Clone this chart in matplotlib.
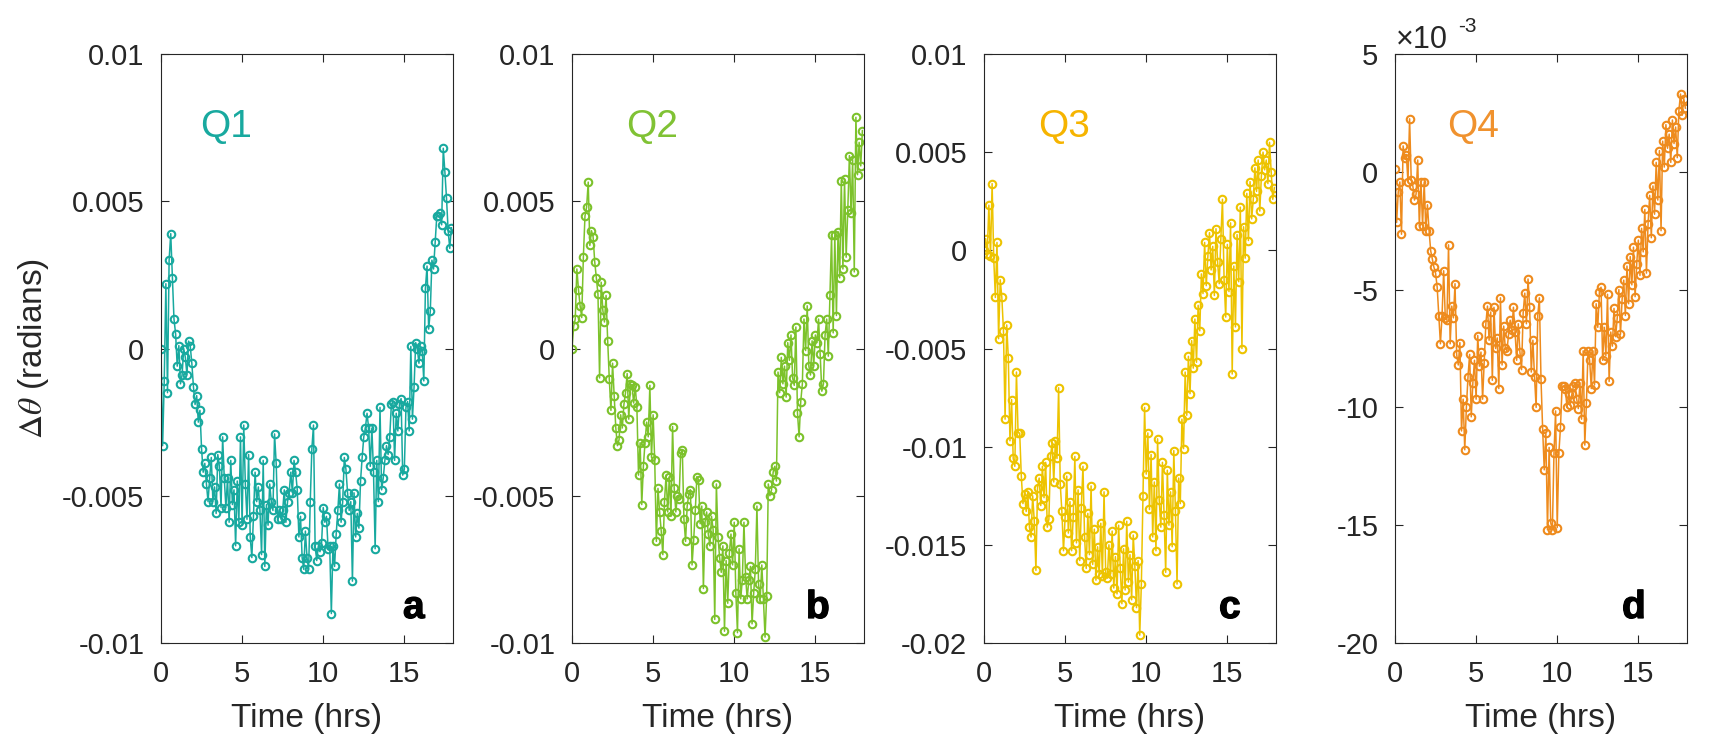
import numpy as np
import matplotlib
matplotlib.use('Agg')
import matplotlib.pyplot as plt
import matplotlib.patheffects as pe

plt.rcParams['font.family'] = ['Liberation Sans', 'DejaVu Sans']
plt.rcParams['axes.unicode_minus'] = False
plt.rcParams['mathtext.fontset'] = 'stix'

# ---------------- data (values in units of 1e-3 rad) ----------------
DT = 0.1  # hours between samples

q1 = [0.0, -3.3, -1.1, 2.2, -1.5, 3.0, 3.9, 2.4, 1.0, 0.5,
      -0.6, 0.1, -1.2, -0.9, 0.0, -0.3, -0.9, 0.25, 0.1, -0.5,
      -1.3, -1.9, -1.6, -2.5, -2.1, -3.4, -4.2, -3.9, -4.6, -5.2,
      -4.4, -3.7, -5.2, -4.7, -5.6, -3.6, -4.0, -5.4, -3.0, -4.4,
      -5.4, -4.4, -5.9, -3.8, -5.3, -4.8, -6.7, -4.5, -5.9, -3.0,
      -6.0, -2.6, -4.6, -5.8, -3.6, -6.4, -7.1, -5.7, -4.2, -5.2,
      -4.7, -5.5, -7.0, -3.8, -7.4, -5.3, -6.0, -4.6, -5.2, -5.5,
      -2.9, -3.9, -5.8, -5.5, -5.8, -5.5, -4.8, -5.9, -5.2, -4.9,
      -4.2, -4.9, -3.8, -4.2, -4.8, -6.4, -5.7, -7.1, -7.5, -6.2,
      -7.1, -7.5, -5.2, -3.4, -2.6, -6.7, -7.2, -6.7, -6.9, -6.6,
      -5.4, -5.9, -5.7, -6.8, -6.7, -9.0, -6.7, -7.4, -6.3, -5.5,
      -4.6, -5.9, -5.2, -3.7, -4.1, -4.9, -5.5, -5.2, -7.9, -4.9,
      -6.4, -5.6, -6.1, -4.5, -3.7, -3.0, -2.7, -2.2, -2.7, -4.0,
      -2.7, -4.2, -6.8, -3.8, -5.2, -2.0, -4.8, -4.4, -3.8, -3.3,
      -3.6, -3.0, -1.9, -1.8, -3.8, -2.2, -2.8, -1.9, -1.7, -4.3,
      -4.1, -2.0, -1.8, -2.8, 0.07, -2.4, -1.3, 0.2, 0.0, -0.5,
      0.07, -0.07, -1.1, 2.05, 2.8, 0.66, 1.26, 3.0, 2.7, 3.6,
      4.5, 4.5, 4.6, 4.2, 6.8, 6.0, 5.1, 4.0, 3.4, 4.1]

q2 = [0.0, 0.75, 1.0, 2.7, 2.0, 1.45, 1.05, 3.1, 4.5, 4.8,
      5.65, 3.5, 4.0, 3.8, 2.95, 2.4, 1.85, -1.0, 2.25, 1.3,
      0.9, 1.8, 0.26, -1.05, -2.1, -0.5, -1.6, -2.7, -3.3, -3.1,
      -2.25, -2.7, -1.9, -1.5, -0.85, -2.4, -1.2, -1.25, -1.85, -1.3,
      -2.0, -4.3, -3.2, -5.3, -4.0, -3.2, -2.5, -3.0, -1.25, -3.7,
      -2.25, -3.8, -6.55, -4.75, -5.55, -6.2, -7.0, -5.2, -4.3, -5.55,
      -4.35, -5.7, -2.65, -4.75, -5.55, -5.0, -5.1, -3.55, -3.45, -5.8,
      -6.55, -5.35, -4.95, -4.8, -7.35, -6.5, -5.5, -4.35, -4.45, -5.95,
      -5.35, -8.15, -5.9, -5.55, -6.3, -6.7, -5.7, -6.15, -9.2, -4.6,
      -6.4, -7.1, -7.6, -6.7, -9.6, -7.2, -8.65, -6.95, -6.3, -7.35,
      -5.9, -8.3, -9.65, -6.8, -8.5, -7.85, -5.9, -7.75, -8.5, -7.85,
      -7.4, -9.35, -8.3, -7.5, -5.35, -8.0, -8.5, -7.35, -8.5, -9.8,
      -8.4, -4.6, -5.0, -4.8, -4.2, -4.0, -4.5, -0.8, -1.5, -0.3,
      -1.2, -0.6, -1.65, 0.2, -0.4, 0.46, -1.0, -1.25, 0.73, -2.2,
      -3.0, -1.8, -1.2, 1.0, -0.07, 1.45, -0.6, -0.9, 0.26, -0.6,
      0.46, 0.2, 1.0, -0.2, -1.45, -1.2, 0.46, 1.0, -0.26, 1.8,
      3.85, 0.53, 3.85, 1.12, 3.97, 2.4, 5.7, 2.7, 5.75, 3.1,
      4.7, 6.55, 4.6, 6.4, 2.6, 7.85, 5.9, 7.0, 6.2, 7.4]

q3 = [0.0, 0.6, -0.2, 2.3, -0.3, 3.4, -0.4, -2.4, 0.4, -4.5,
      -1.5, -2.4, -4.1, -8.6, -3.8, -5.5, -9.7, -7.6, -10.6, -11.0,
      -6.2, -9.3, -9.3, -11.5, -12.9, -12.4, -13.3, -12.3, -14.1, -14.6,
      -12.5, -13.8, -16.3, -12.1, -11.6, -13.0, -11.0, -12.6, -10.8, -14.1,
      -13.7, -10.5, -9.8, -11.8, -9.7, -10.6, -7.0, -11.9, -13.3, -15.3,
      -13.6, -11.5, -14.4, -12.8, -15.3, -13.6, -10.5, -14.9, -12.2, -15.8,
      -13.1, -11.0, -14.6, -16.2, -13.4, -15.5, -12.0, -16.0, -14.2, -16.8,
      -15.1, -16.5, -13.9, -16.6, -12.3, -16.4, -16.7, -15.0, -16.5, -14.3,
      -17.2, -15.6, -17.5, -14.0, -16.2, -18.0, -15.2, -17.3, -13.8, -16.9,
      -15.5, -17.8, -14.5, -16.1, -18.2, -15.8, -19.6, -17.0, -12.5, -8.0,
      -11.4, -9.3, -13.2, -10.4, -14.6, -11.8, -15.3, -9.6, -12.7, -14.1,
      -10.8, -13.5, -16.4, -11.2, -14.0, -12.3, -15.1, -10.2, -13.3, -17.0,
      -11.6, -12.9, -8.6, -10.1, -6.2, -8.4, -5.4, -7.3, -4.6, -6.0,
      -3.5, -5.7, -2.8, -4.1, -1.2, -2.2, 0.4, -1.8, -0.3, 0.9,
      -1.0, 0.2, -2.3, 1.1, -0.6, -1.7, 0.6, 2.6, -1.5, -3.4,
      0.3, -2.1, 1.4, -6.3, -0.8, -3.9, 0.8, -1.6, 2.2, -5.0,
      1.2, -0.4, 2.9, 0.5, 3.5, 1.6, 2.6, 4.2, 3.0, 4.6,
      2.0, 3.8, 5.0, 4.1, 4.6, 3.4, 5.5, 4.0, 2.6, 3.2]

q4 = [0.1, -2.15, -0.85, -0.43, -2.65, 1.1, 0.6, 0.7, -0.43, 2.25,
      -0.35, -0.6, -1.2, -0.95, 0.5, -2.3, -0.43, -2.3, -0.43, -2.5,
      -1.4, -2.5, -3.35, -3.7, -4.05, -4.3, -4.9, -6.1, -7.3, -6.1,
      -4.2, -6.2, -6.3, -3.1, -7.3, -5.7, -6.2, -4.75, -7.75, -8.2,
      -7.25, -11.0, -9.65, -11.8, -10.0, -8.7, -7.75, -10.4, -8.95, -8.0,
      -9.65, -6.95, -8.25, -7.65, -9.65, -8.1, -6.45, -5.7, -7.15, -5.95,
      -8.85, -5.75, -7.5, -7.05, -9.2, -5.35, -8.2, -6.55, -7.5, -7.6,
      -6.9, -6.3, -6.7, -5.75, -6.8, -8.0, -6.45, -7.65, -8.4, -6.0,
      -5.15, -6.45, -4.55, -5.75, -8.5, -7.15, -8.7, -10.0, -6.1, -5.35,
      -8.8, -10.9, -12.65, -11.1, -15.2, -11.7, -14.9, -15.2, -11.95, -10.15,
      -15.1, -11.95, -10.85, -9.1, -9.1, -9.2, -10.0, -9.45, -9.9, -9.45,
      -9.1, -8.95, -9.65, -10.05, -8.95, -10.5, -7.6, -11.6, -9.8, -7.6,
      -8.0, -9.2, -7.6, -9.05, -5.6, -6.6, -5.1, -4.9, -8.0, -6.6,
      -7.8, -5.2, -8.9, -6.8, -7.4, -5.8, -7.0, -6.2, -5.0, -6.9,
      -5.4, -4.6, -6.1, -4.0, -5.6, -3.6, -4.8, -3.2, -5.3, -3.9,
      -2.9, -4.4, -2.4, -3.4, -1.6, -4.3, -2.2, -1.0, -2.8, -0.6,
      -1.8, 0.4, -1.2, 0.9, -2.5, 1.3, 0.2, 2.0, 1.0, 1.6,
      0.4, 2.2, 1.2, 1.9, 0.6, 2.6, 3.3, 2.4, 3.1, 2.7]

series = [q1, q2, q3, q4]
value_scale = [1e-3, 1e-3, 1e-3, 1.0]   # panel d is drawn in units of 1e-3
names = ['Q1', 'Q2', 'Q3', 'Q4']
letters = ['a', 'b', 'c', 'd']
line_colors = ['#18A99F', '#7CC22B', '#EDC300', '#EE8B1D']
text_colors = ['#18A99F', '#80C234', '#F6B400', '#F0922E']

xticks = [0, 5, 10, 15]
yticks_ab = [0.01, 0.005, 0, -0.005, -0.01]
yticklabels_ab = ['0.01', '0.005', '0', '-0.005', '-0.01']
yticks_c = [0.01, 0.005, 0, -0.005, -0.01, -0.015, -0.02]
yticklabels_c = ['0.01', '0.005', '0', '-0.005', '-0.01', '-0.015', '-0.02']
yticks_d = [5, 0, -5, -10, -15, -20]
yticklabels_d = ['5', '0', '-5', '-10', '-15', '-20']
yticks_all = [yticks_ab, yticks_ab, yticks_c, yticks_d]
yticklabels_all = [yticklabels_ab, yticklabels_ab, yticklabels_c, yticklabels_d]
ylims = [(-0.01, 0.01), (-0.01, 0.01), (-0.02, 0.01), (-20, 5)]

# ---------------- layout (pixels) ----------------
W, H = 1709, 738
lefts = [161, 572, 984, 1395]
ax_w, ax_top, ax_bot = 292, 54, 643
q_offsets = [39, 54, 54, 52]
letter_offsets = [242, 234, 235, 227]
dark = '#262626'

fig = plt.figure(figsize=(W / 100, H / 100), dpi=100)
fig.patch.set_facecolor('white')

for k in range(4):
    ax = fig.add_axes([lefts[k] / W, (H - ax_bot) / H, ax_w / W, (ax_bot - ax_top) / H])
    y = np.array(series[k]) * value_scale[k]
    t = np.arange(len(y)) * DT
    ax.plot(t, y, '-o', color=line_colors[k], lw=1.1, ms=5.4, mfc='none', mew=1.5)
    ax.set_xlim(0, 18)
    ax.set_ylim(*ylims[k])
    ax.set_xticks(xticks)
    ax.set_xticklabels([str(v) for v in xticks])
    ax.set_yticks(yticks_all[k])
    ax.set_yticklabels(yticklabels_all[k])
    ax.tick_params(direction='in', length=6, width=0.8, top=True, right=True,
                   labelsize=21, colors=dark)
    ax.tick_params(axis='x', pad=12)
    ax.tick_params(axis='y', pad=12)
    for s in ax.spines.values():
        s.set_color(dark)
        s.set_linewidth(0.8)
    ph = ax_bot - ax_top
    ax.text(q_offsets[k] / ax_w, 1 - (137 - ax_top) / ph, names[k], transform=ax.transAxes,
            fontsize=28, color=text_colors[k], ha='left', va='baseline')
    ax.text(letter_offsets[k] / ax_w, 25 / ph, letters[k], transform=ax.transAxes,
            fontsize=28, fontweight='bold', color='black', ha='left', va='baseline',
            path_effects=[pe.withStroke(linewidth=0.9, foreground='black')])
    fig.text((lefts[k] + ax_w / 2) / W, 1 - 718 / H, 'Time (hrs)', fontsize=24,
             color=dark, ha='center', va='center')

fig.text(34 / W, 1 - 348.5 / H, r'$\Delta\theta$ (radians)', fontsize=24, color=dark,
         rotation=90, ha='center', va='center')
fig.text(1396 / W, 1 - 48 / H, '×10', fontsize=22, color=dark, ha='left', va='baseline')
fig.text(1458 / W, 1 - 32 / H, '-3', fontsize=15, color=dark, ha='left', va='baseline')

fig.savefig('out.png', dpi=100, facecolor='white')
